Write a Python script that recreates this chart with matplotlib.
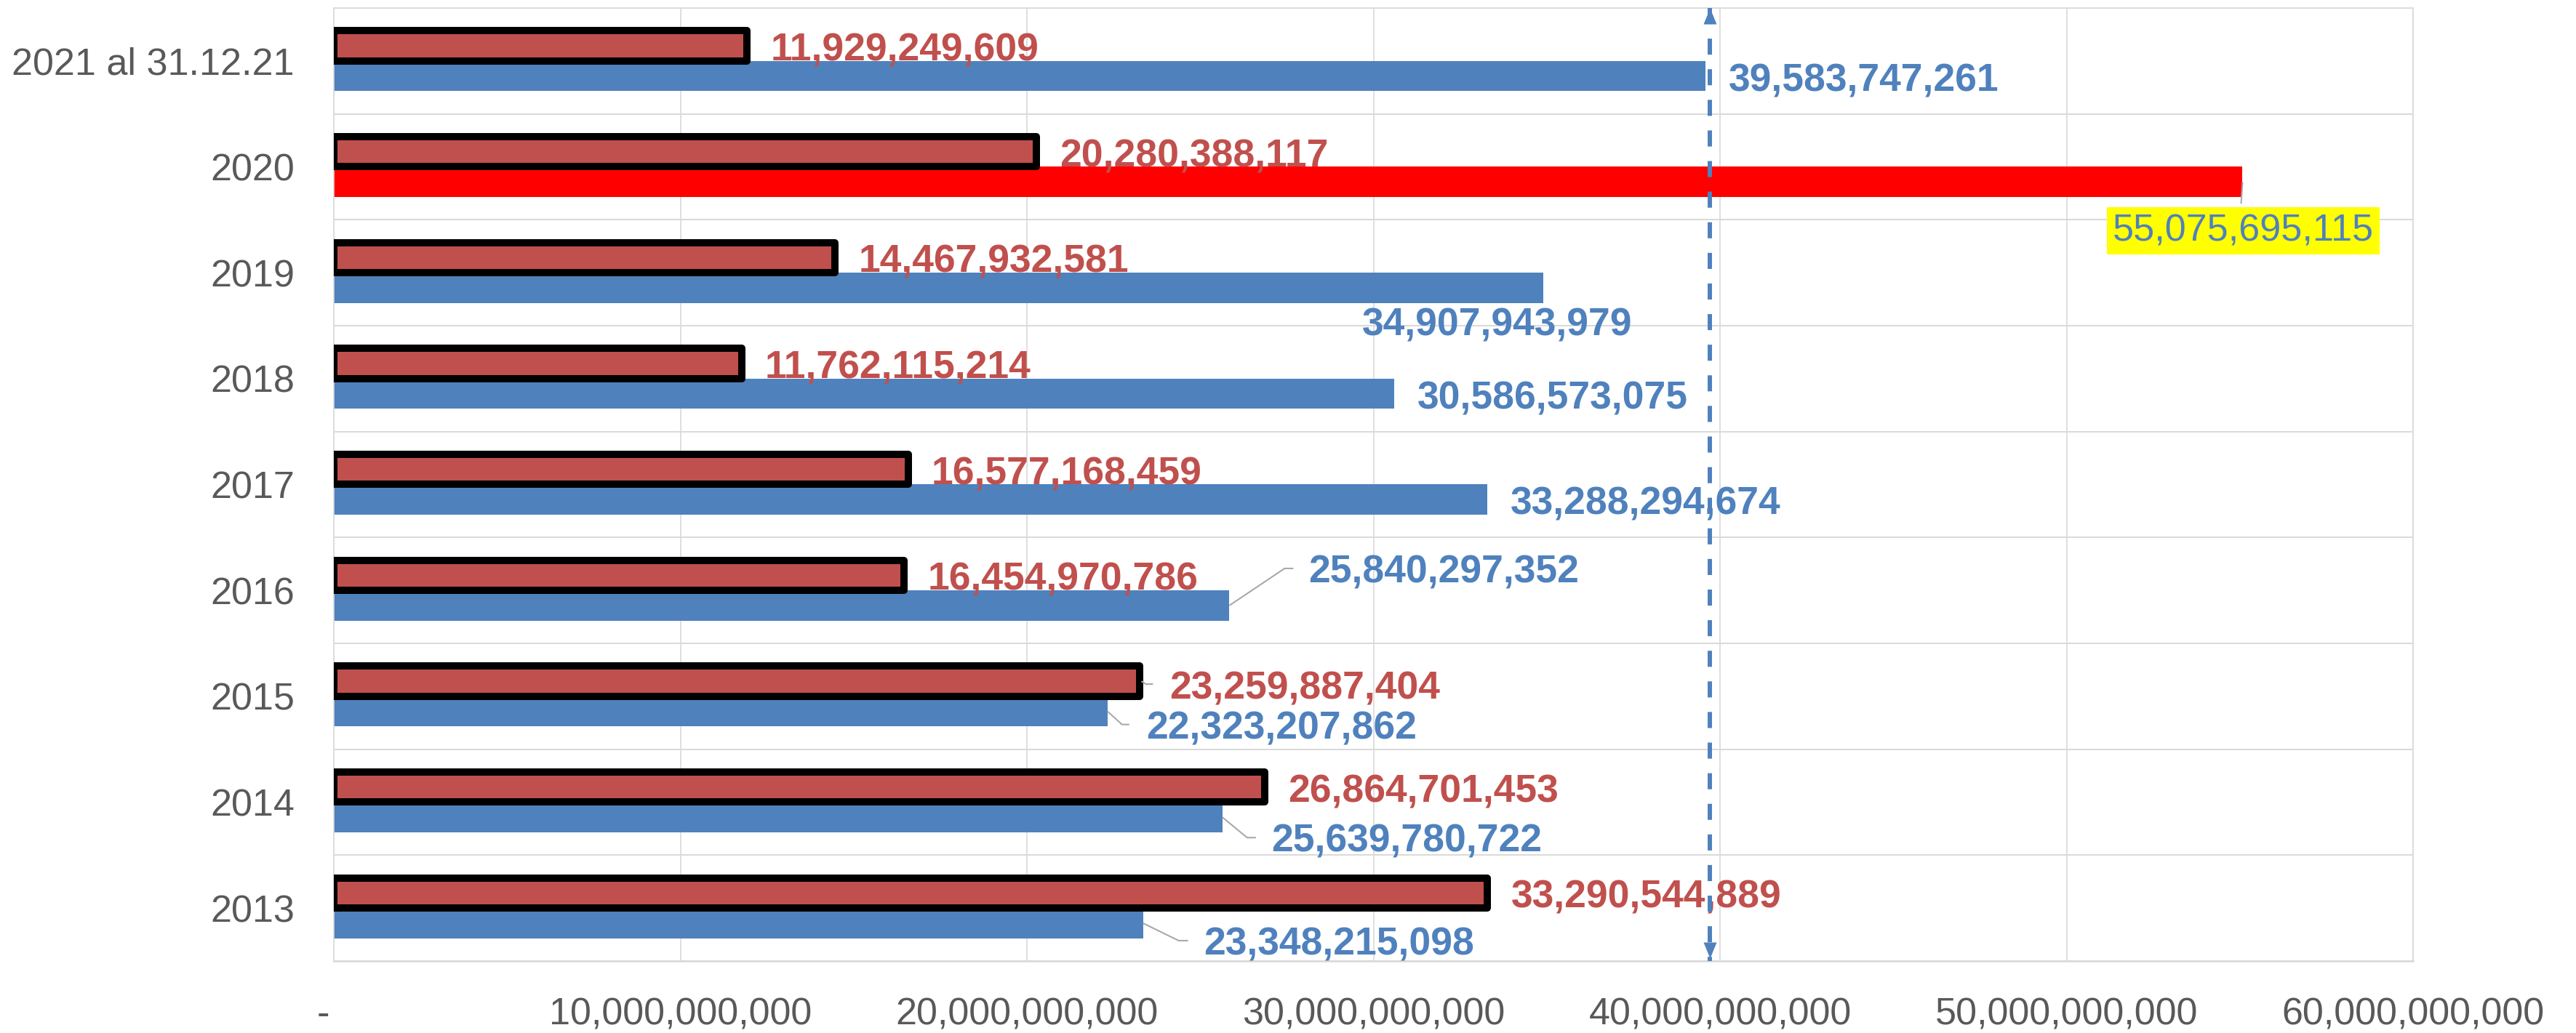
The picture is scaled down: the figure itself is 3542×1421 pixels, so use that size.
import matplotlib
matplotlib.use("Agg")
import matplotlib.pyplot as plt
import numpy as np
from matplotlib.transforms import ScaledTranslation, offset_copy
from matplotlib.path import Path

plt.rcParams['font.family'] = ['Liberation Sans', 'DejaVu Sans']

# ---------------- data ----------------
categories = ['2021 al 31.12.21', '2020', '2019', '2018', '2017', '2016', '2015', '2014', '2013']
series_red = [11929249609, 20280388117, 14467932581, 11762115214, 16577168459,
              16454970786, 23259887404, 26864701453, 33290544889]
series_blue = [39583747261, 55075695115, 34907943979, 30586573075, 33288294674,
               25840297352, 22323207862, 25639780722, 23348215098]
xtick_values = [0, 10e9, 20e9, 30e9, 40e9, 50e9, 60e9]
xtick_labels = ['-', '10,000,000,000', '20,000,000,000', '30,000,000,000',
                '40,000,000,000', '50,000,000,000', '60,000,000,000']
highlight_category = '2020'

# ---------------- style ----------------
RED = '#C0504D'
BLUE = '#4F81BD'
HILITE = '#FF0000'
GRID = '#D9D9D9'
TICK = '#595959'
LEADER = '#A6A6A6'
FS = 37.5
FS_LAB = 38.5

# label offsets in pixels: (dx, dy_down) relative to (bar end, bar centre)
red_offsets = {6: (41, 5)}
blue_offsets = {2: (-250, 46), 5: (109, -51), 6: (53, 18), 7: (67, 28), 8: (83, 24)}
DEFAULT_OFF = (32, 1)
# leader polylines in pixels (dx, dy_down) from bar end
red_leaders = {6: [(2, 0), (8, 4), (18, 4)]}
blue_leaders = {1: [(0, 0), (-2, 30)],
                5: [(0, 0), (76, -51), (88, -51)],
                6: [(0, 0), (20, 18), (30, 18)],
                7: [(0, 0), (34, 28), (46, 28)],
                8: [(0, 0), (49, 24), (62, 24)]}

fig = plt.figure(figsize=(35.42, 14.21), dpi=100)
ax = fig.add_axes([0.1296, 0.06967, 0.8072, 0.92259])

n = len(categories)
pos = np.arange(n)
h = 0.285
off = 0.1425
hi = categories.index(highlight_category)
blue_colors = [HILITE if i == hi else BLUE for i in range(n)]

ax.barh(pos + off, series_blue, height=h, color=blue_colors, zorder=2)
ax.barh(pos - off, series_red, height=h, color=RED, edgecolor='black',
        linewidth=7.2, joinstyle='round', zorder=3)

ax.set_xlim(xtick_values[0], xtick_values[-1])
ax.set_ylim(n - 0.5, -0.5)

ax.set_xticks(xtick_values, xtick_labels)
ax.set_yticks(pos, categories)
ax.set_yticks(np.arange(n + 1) - 0.5, minor=True)
ax.set_axisbelow(True)
ax.grid(axis='x', which='major', color=GRID, lw=1.2)
ax.grid(axis='y', which='minor', color=GRID, lw=1.4)
ax.grid(axis='y', which='major', visible=False)
ax.tick_params(axis='both', which='both', length=0, labelsize=FS, labelcolor=TICK)
ax.tick_params(axis='x', pad=36)
ax.tick_params(axis='y', pad=39)
for s in ax.spines.values():
    s.set_color(GRID)
    s.set_linewidth(1.2)
ax.spines['bottom'].set_linewidth(1.8)

# shift the "-" zero label slightly left like Excel's accounting format
lab0 = ax.get_xticklabels()[0]
lab0.set_transform(lab0.get_transform() + ScaledTranslation(-14.5 / 100, 0, fig.dpi_scale_trans))


def leader(x, y, pts):
    tr = ScaledTranslation(x, y, ax.transData)
    xs = [p[0] for p in pts]
    ys = [-p[1] for p in pts]
    ax.plot(xs, ys, transform=tr, color=LEADER, lw=1.44, clip_on=False,
            zorder=4, solid_capstyle='butt')


for i in range(n):
    v = series_red[i]
    dx, dy = red_offsets.get(i, DEFAULT_OFF)
    ax.annotate(f"{v:,}", xy=(v, i - off), xytext=(dx, -dy), textcoords='offset pixels',
                ha='left', va='center_baseline', color=RED, fontsize=FS_LAB,
                fontweight='bold', zorder=5)
    if i in red_leaders:
        leader(v, i - off, red_leaders[i])

for i in range(n):
    v = series_blue[i]
    if i == hi:
        ax.annotate(f"{v:,}", xy=(v, i + off), xytext=(1, -62), textcoords='offset pixels',
                    ha='center', va='center_baseline', color=BLUE, fontsize=FS,
                    fontweight='normal', zorder=5,
                    bbox=dict(boxstyle='square,pad=0.15', fc='#FFFF00', ec='none'))
    else:
        dx, dy = blue_offsets.get(i, DEFAULT_OFF)
        ax.annotate(f"{v:,}", xy=(v, i + off), xytext=(dx, -dy), textcoords='offset pixels',
                    ha='left', va='center_baseline', color=BLUE, fontsize=FS_LAB,
                    fontweight='bold', zorder=5)
    if i in blue_leaders:
        leader(v, i + off, blue_leaders[i])

# dashed double arrow at the 2021 value
xa = series_blue[0]
tr_line = offset_copy(ax.transData, fig=fig, x=6, y=0, units='dots')
ax.plot([xa, xa], [-0.5, n - 0.5], transform=tr_line, color=BLUE, lw=4.3,
        linestyle=(0, (3.7, 3.35)), clip_on=False, zorder=6)
tri_up = Path([(0, 1.1), (-0.9, -1.1), (0.9, -1.1), (0, 1.1)],
              [Path.MOVETO, Path.LINETO, Path.LINETO, Path.CLOSEPOLY])
tri_down = Path([(0, -1.1), (-0.9, 1.1), (0.9, 1.1), (0, -1.1)],
                [Path.MOVETO, Path.LINETO, Path.LINETO, Path.CLOSEPOLY])
tr_top = offset_copy(ax.transData, fig=fig, x=6, y=-11, units='dots')
tr_bot = offset_copy(ax.transData, fig=fig, x=6, y=15, units='dots')
ax.plot([xa], [-0.5], transform=tr_top, marker=tri_up, markersize=15.84,
        color=BLUE, mec='none', clip_on=False, zorder=7)
ax.plot([xa], [n - 0.5], transform=tr_bot, marker=tri_down, markersize=15.84,
        color=BLUE, mec='none', clip_on=False, zorder=7)

fig.savefig('out.png', dpi=100, facecolor='white')
